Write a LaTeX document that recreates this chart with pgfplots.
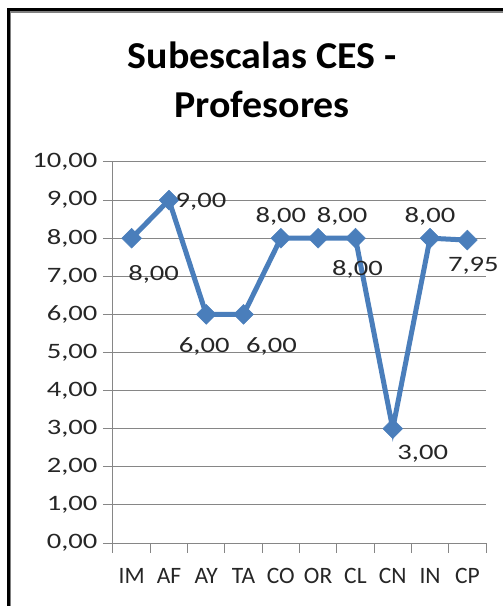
\documentclass[border=0pt]{standalone}
\usepackage{pgfplots}
\pgfplotsset{compat=1.18}
\usepackage{pgfplotstable}
\usepackage{graphicx}
\usepackage{fontspec}
\setmainfont{Carlito}
\newfontfamily\titlefont{Carlito}[FakeStretch=1.05]

\definecolor{serblue}{HTML}{4A7EBB}
\definecolor{gridgray}{HTML}{868686}
\definecolor{txt}{HTML}{262626}

% numbers in the chart are set a little wide, as in the original
\newcommand{\wide}[1]{\scalebox{1.3}[1]{#1}}

% subescala index, value, label offset (dx, dy in pt)
\pgfplotstableread{
x y dx dy
0 8.00 22 -36
1 9.00 32 -2
2 6.00 -2 -32
3 6.00 28 -32
4 8.00 0 22
5 8.00 24 22
6 8.00 2 -31
7 3.00 30 -25
8 8.00 0 22
9 7.95 6 -26
}\ces

\begin{document}
\begin{tikzpicture}
\useasboundingbox (0,0) rectangle (503pt,606pt);

\begin{axis}[
    at={(113pt,63pt)}, anchor=south west,
    scale only axis,
    width=373pt, height=381pt,
    xmin=-0.5, xmax=9.5,
    ymin=0, ymax=10,
    clip=false,
    axis lines*=left,
    axis line style={draw=gridgray, line width=1pt, -},
    ytick={0,...,10},
    yticklabels={\wide{0,00},\wide{1,00},\wide{2,00},\wide{3,00},\wide{4,00},\wide{5,00},\wide{6,00},\wide{7,00},\wide{8,00},\wide{9,00},\wide{10,00}},
    ymajorgrids,
    grid style={gridgray, line width=1pt},
    xtick={0,...,9},
    xticklabels={IM,AF,AY,TA,CO,OR,CL,CN,IN,CP},
    major x tick style={draw=none},
    minor xtick={-0.5,0.5,...,9.5},
    tick align=outside,
    major tick length=10pt,
    minor tick length=10pt,
    tick style={gridgray, line width=1pt},
    xticklabel style={font=\fontsize{23.5}{26}\selectfont, text=txt, yshift=-12pt},
    yticklabel style={font=\fontsize{22}{26}\selectfont, text=txt, xshift=-2pt},
]
\addplot[
    serblue, line width=5pt,
    mark=square*, mark size=7pt,
    mark options={rotate=45, fill=serblue, draw=serblue, line width=0.5pt},
    visualization depends on={\thisrow{dx}\as\dx},
    visualization depends on={\thisrow{dy}\as\dy},
    nodes near coords={\wide{\pgfmathprintnumber[fixed, fixed zerofill, precision=2, use comma, assume math mode=true]{\pgfplotspointmeta}}},
    nodes near coords style={anchor=center, xshift=\dx, yshift=\dy,
        font=\fontsize{22}{26}\selectfont, text=txt, inner sep=0pt},
] table[x=x, y=y] {\ces};
\end{axis}

\node[anchor=base, font=\titlefont\bfseries\fontsize{38}{49}\selectfont] at (262pt,537pt) {Subescalas CES -};
\node[anchor=base, font=\titlefont\bfseries\fontsize{38}{49}\selectfont] at (262pt,488pt) {Profesores};

\draw[black, line width=3pt] (8pt,0pt) -- (8pt,596.5pt) -- (503pt,596.5pt);
\draw[gray, line width=1.5pt] (10.5pt,0pt) -- (10.5pt,594pt) -- (503pt,594pt);
\end{tikzpicture}
\end{document}
